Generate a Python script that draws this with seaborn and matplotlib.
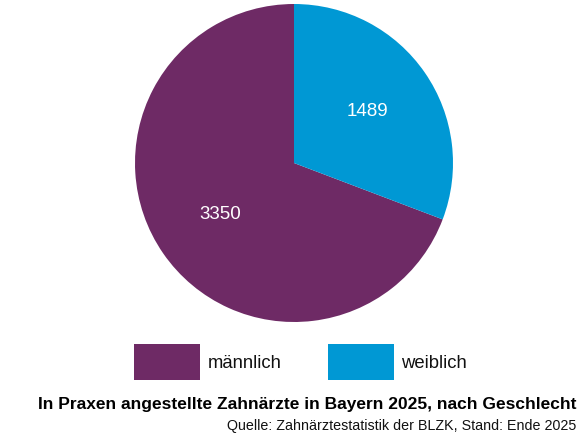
import matplotlib
matplotlib.use("Agg")
import matplotlib.pyplot as plt
import seaborn as sns

# data
categories = ["männlich", "weiblich"]
values = [3350, 1489]
colors = ["#6E2A65", "#0098D4"]
title = "In Praxen angestellte Zahnärzte in Bayern 2025, nach Geschlecht"
source = "Quelle: Zahnärztestatistik der BLZK, Stand: Ende 2025"

sns.set_theme(style="white")
plt.rcParams['font.family'] = ['Liberation Sans', 'DejaVu Sans']

fig = plt.figure(figsize=(5.84, 4.38), dpi=100)
ax = fig.add_axes([(294 - 159) / 584, (438 - 322) / 438, 318 / 584, 318 / 438])

wedges, texts = ax.pie(values, colors=colors, startangle=90, counterclock=True,
                       labels=[str(v) for v in values], labeldistance=0.565,
                       wedgeprops={'linewidth': 0},
                       textprops={'color': 'white', 'fontsize': 13.5})
for t in texts:
    t.set_ha('center')
    t.set_va('center')
ax.set_aspect('equal')
ax.set_xlim(-1, 1)
ax.set_ylim(-1, 1)
ax.axis('off')

fig.legend(wedges, categories, loc='center', bbox_to_anchor=(0.515, 1 - 362 / 438),
           ncol=2, frameon=False, fontsize=13.3, handlelength=3.57, handleheight=2.65,
           handletextpad=0.38, columnspacing=2.55, labelcolor='#111111')

fig.text(576 / 584, 1 - 404 / 438, title, ha='right', va='center',
         fontsize=12.5, fontweight='bold', color='#000000')
fig.text(576 / 584, 1 - 426 / 438, source, ha='right', va='center',
         fontsize=10.3, color='#111111')

fig.savefig("out.png", dpi=100)
